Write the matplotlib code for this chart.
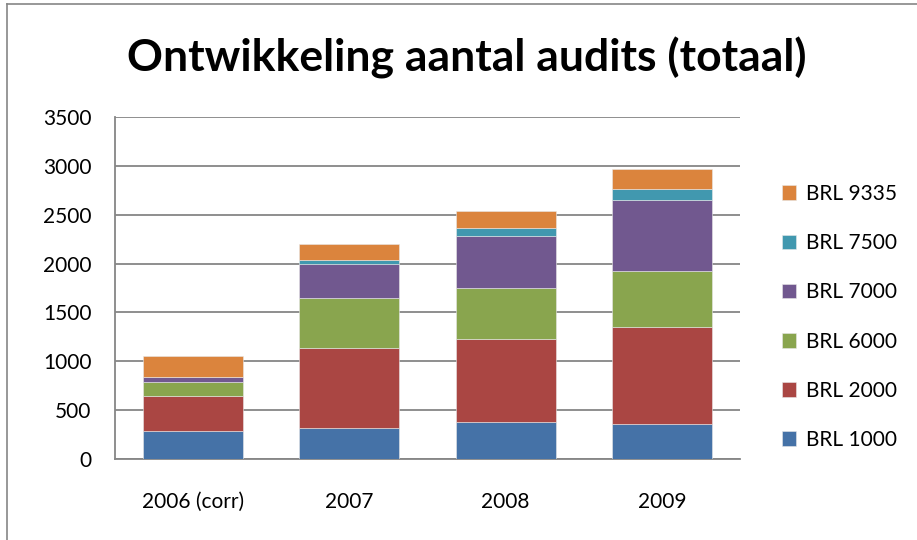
import matplotlib.pyplot as plt
import numpy as np

# data
jaren = ["2006 (corr)", "2007", "2008", "2009"]
brl_1000 = [290, 320, 375, 360]
brl_2000 = [355, 820, 850, 995]
brl_6000 = [140, 505, 520, 565]
brl_7000 = [55, 355, 540, 730]
brl_7500 = [0, 40, 80, 110]
brl_9335 = [215, 160, 175, 210]

series = [
    ("BRL 1000", brl_1000, "#4572A7"),
    ("BRL 2000", brl_2000, "#AA4643"),
    ("BRL 6000", brl_6000, "#89A54E"),
    ("BRL 7000", brl_7000, "#71588F"),
    ("BRL 7500", brl_7500, "#4198AF"),
    ("BRL 9335", brl_9335, "#DB843D"),
]

plt.rcParams['font.family'] = ['Lato', 'DejaVu Sans']

fig = plt.figure(figsize=(9.17, 5.4), dpi=100)
ax = fig.add_axes([0.1254, 0.15, 0.6816, 0.6333])

x = np.arange(len(jaren))
bottom = np.zeros(len(jaren))
handles = []
for naam, waarden, kleur in series:
    b = ax.bar(x, waarden, 0.64, bottom=bottom, color=kleur, label=naam,
               edgecolor="#e8e8e8", linewidth=0.4, zorder=3)
    handles.append(b)
    bottom += np.array(waarden)

ax.set_xlim(-0.5, 3.5)
ax.set_ylim(0, 3500)
ax.set_yticks(range(0, 3501, 500))
ax.set_xticks(x)
ax.set_xticklabels(jaren, fontsize=15.5)
ax.tick_params(axis="both", length=0, labelsize=15, colors="black")
ax.tick_params(axis="x", pad=24)
ax.tick_params(axis="y", pad=17)
ax.yaxis.grid(True, color="#868686", linewidth=1.3, zorder=0)
ax.set_axisbelow(True)
for s in ["top", "right"]:
    ax.spines[s].set_visible(False)
for s in ["left", "bottom"]:
    ax.spines[s].set_color("#868686")
    ax.spines[s].set_linewidth(1.3)

fig.text(0.509, 0.893, "Ontwikkeling aantal audits (totaal)", ha="center",
         va="center", fontsize=32, fontweight="bold")

leg = fig.legend(handles[::-1], [s[0] for s in series][::-1],
                 loc="center left", bbox_to_anchor=(0.832, 0.413),
                 frameon=False, fontsize=15, handlelength=0.7,
                 handleheight=0.7, handletextpad=0.45, labelspacing=1.4)

# outline of the chart area (left and top visible)
fig.add_artist(plt.Line2D([0.0077, 0.0077], [0, 0.993], color="#868686",
                          linewidth=1.2, transform=fig.transFigure))
fig.add_artist(plt.Line2D([0.0077, 1.0], [0.993, 0.993], color="#868686",
                          linewidth=1.2, transform=fig.transFigure))

fig.savefig("out.png", dpi=100)
